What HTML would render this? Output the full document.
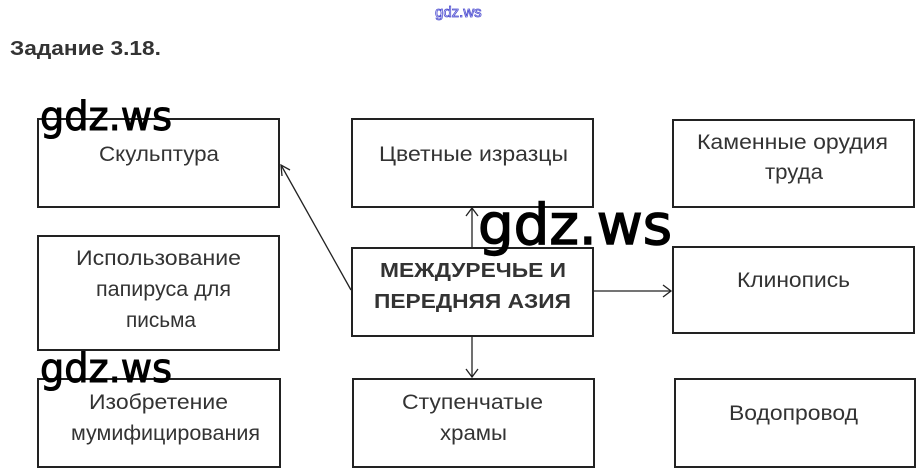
<!DOCTYPE html>
<html><head><meta charset="utf-8"><style>
html,body{margin:0;padding:0;background:#fff;width:924px;height:475px;overflow:hidden}
svg{display:block}
</style></head><body>
<svg width="924" height="475" viewBox="0 0 924 475" xmlns="http://www.w3.org/2000/svg" font-family="'Liberation Sans', 'DejaVu Sans', sans-serif">
<text x="435" y="17" font-size="15" fill="#fff" stroke="#4b4bd0" stroke-width="0.8">gdz.ws</text>
<text x="10" y="55" font-size="20" font-weight="bold" fill="#333" textLength="151" lengthAdjust="spacingAndGlyphs">Задание 3.18.</text>
<g fill="none" stroke="#222" stroke-width="2">
<rect x="38" y="119" width="241" height="88"/>
<rect x="38" y="236" width="241" height="114"/>
<rect x="38" y="379" width="242" height="88"/>
<rect x="352" y="119" width="241" height="88"/>
<rect x="352" y="248" width="241" height="88"/>
<rect x="353" y="379" width="241" height="88"/>
<rect x="673" y="120" width="241" height="87"/>
<rect x="673" y="247" width="241" height="86"/>
<rect x="675" y="379" width="240" height="88"/>
</g>
<g fill="none" stroke="#222" stroke-width="1.3">
<line x1="351" y1="290" x2="281" y2="165"/>
<polyline points="282,176 281,165 290,170"/>
<line x1="472" y1="248" x2="472" y2="208"/>
<polyline points="466,216 472,208 478,216"/>
<line x1="472" y1="336" x2="472" y2="377"/>
<polyline points="466,369 472,377 478,369"/>
<line x1="593" y1="291" x2="671" y2="291"/>
<polyline points="663,285 671,291 663,297"/>
</g>
<g font-size="21" fill="#333" lengthAdjust="spacingAndGlyphs">
<text x="99" y="161" textLength="120" lengthAdjust="spacingAndGlyphs">Скульптура</text>
<text x="76" y="265" textLength="165" lengthAdjust="spacingAndGlyphs">Использование</text>
<text x="96" y="296" textLength="135" lengthAdjust="spacingAndGlyphs">папируса для</text>
<text x="126" y="327" textLength="70" lengthAdjust="spacingAndGlyphs">письма</text>
<text x="89" y="409" textLength="139" lengthAdjust="spacingAndGlyphs">Изобретение</text>
<text x="71" y="440" textLength="189" lengthAdjust="spacingAndGlyphs">мумифицирования</text>
<text x="379" y="161" textLength="189" lengthAdjust="spacingAndGlyphs">Цветные изразцы</text>
<text x="402" y="409" textLength="141" lengthAdjust="spacingAndGlyphs">Ступенчатые</text>
<text x="440" y="440" textLength="67" lengthAdjust="spacingAndGlyphs">храмы</text>
<text x="697" y="149" textLength="191" lengthAdjust="spacingAndGlyphs">Каменные орудия</text>
<text x="765" y="179" textLength="58" lengthAdjust="spacingAndGlyphs">труда</text>
<text x="737" y="287" textLength="113" lengthAdjust="spacingAndGlyphs">Клинопись</text>
<text x="729" y="420" textLength="129" lengthAdjust="spacingAndGlyphs">Водопровод</text>
<text x="380" y="277" font-weight="bold" font-size="20" textLength="186" lengthAdjust="spacingAndGlyphs">МЕЖДУРЕЧЬЕ И</text>
<text x="374" y="308" font-weight="bold" font-size="20" textLength="197" lengthAdjust="spacingAndGlyphs">ПЕРЕДНЯЯ АЗИЯ</text>
</g>
<g font-size="40" fill="#000" stroke="#000" stroke-width="1" font-family="'DejaVu Sans', sans-serif">
<text x="40" y="130" textLength="132" lengthAdjust="spacingAndGlyphs">gdz.ws</text>
<text x="40" y="382" textLength="132" lengthAdjust="spacingAndGlyphs">gdz.ws</text>
<text x="478" y="244" font-size="56" stroke-width="1.4" textLength="194" lengthAdjust="spacingAndGlyphs">gdz.ws</text>
</g>
</svg>
</body></html>
